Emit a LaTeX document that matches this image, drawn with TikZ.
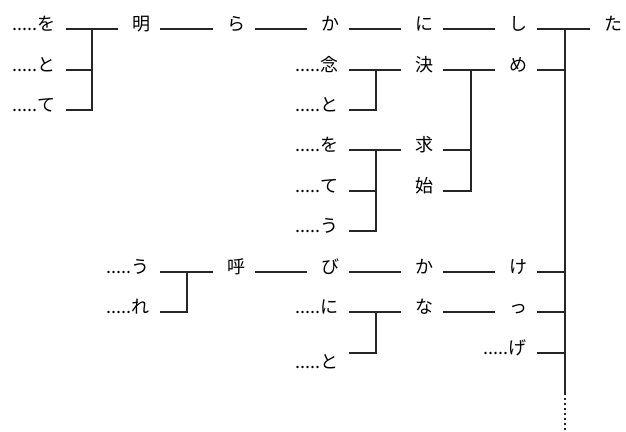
\documentclass[tikz,border=0pt]{standalone}
\usepackage{fontspec}
\setmainfont{Noto Sans CJK JP}
\begin{document}
\begin{tikzpicture}[x=1pt,y=-1pt,
  ch/.style={inner sep=0pt, anchor=base, font=\fontsize{18}{18}\selectfont},
  dch/.style={inner sep=0pt, anchor=base east, font=\fontsize{18}{18}\selectfont},
  ln/.style={line width=1.3pt, draw=black!85}]
\useasboundingbox (0,0) rectangle (626,431);
% row 1
\node[dch] (a1) at (56,30) {.....を};
\node[ch] (a2) at (141,30) {明};
\node[ch] (a3) at (236,30) {ら};
\node[ch] (a4) at (330,30) {か};
\node[ch] (a5) at (424,30) {に};
\node[ch] (a6) at (518,30) {し};
\node[ch] (a7) at (613,30) {た};
% row 2
\node[dch] (b1) at (56,71) {.....と};
\node[dch] (b4) at (339,71) {.....念};
\node[ch] (b5) at (424,71) {決};
\node[ch] (b6) at (518,71) {め};
% row 3
\node[dch] (c1) at (56,111) {.....て};
\node[dch] (c4) at (339,111) {.....と};
% row 4
\node[dch] (d4) at (339,151) {.....を};
\node[ch] (d5) at (424,151) {求};
% row 5
\node[dch] (e4) at (339,192) {.....て};
\node[ch] (e5) at (424,192) {始};
% row 6
\node[dch] (f4) at (339,232) {.....う};
% row 7
\node[dch] (g2) at (150,273) {.....う};
\node[ch] (g3) at (236,273) {呼};
\node[ch] (g4) at (330,273) {び};
\node[ch] (g5) at (424,273) {か};
\node[ch] (g6) at (518,273) {け};
% row 8
\node[dch] (h2) at (150,313) {.....れ};
\node[dch] (h4) at (339,313) {.....に};
\node[ch] (h5) at (424,313) {な};
\node[ch] (h6) at (518,313) {っ};
% row 9
\node[dch] (i4) at (339,368) {.....と};
\node[dch] (i6) at (527,354) {.....げ};
% bracket coordinates
\coordinate (k1) at (92,29);
\coordinate (k2) at (187,272);
\coordinate (k3) at (376,70);
\coordinate (k4) at (376,150);
\coordinate (k5) at (376,312);
\coordinate (k6) at (471,70);
\coordinate (k7) at (565,29);
\coordinate (k7s) at (565,393);
\coordinate (k7e) at (565,431);
\tikzset{from/.style={xshift=10pt,yshift=1pt}, to/.style={xshift=-14pt,yshift=1pt}}
% row 1 lines
\draw[ln] ([from]a1.base east) -- ([to]a2.base west);
\draw[ln] ([from]a2.base east) -- ([to]a3.base west);
\draw[ln] ([from]a3.base east) -- ([to]a4.base west);
\draw[ln] ([from]a4.base east) -- ([to]a5.base west);
\draw[ln] ([from]a5.base east) -- ([to]a6.base west);
\draw[ln] ([from]a6.base east) -- ([to]a7.base west);
\draw[ln] ([from]b1.base east) -| (k1);
\draw[ln] ([from]c1.base east) -| (k1);
% rows 2-6
\draw[ln] ([from]b4.base east) -- ([to]b5.base west);
\draw[ln] ([from]c4.base east) -| (k3);
\draw[ln] ([from]b5.base east) -- ([to]b6.base west);
\draw[ln] ([from]d5.base east) -| (k6);
\draw[ln] ([from]e5.base east) -| (k6);
\draw[ln] ([from]b6.base east) -| (k7);
\draw[ln] ([from]d4.base east) -- ([to]d5.base west);
\draw[ln] ([from]e4.base east) -| (k4);
\draw[ln] ([from]f4.base east) -| (k4);
% rows 7-9
\draw[ln] ([from]g2.base east) -- ([to]g3.base west);
\draw[ln] ([from]h2.base east) -| (k2);
\draw[ln] ([from]g3.base east) -- ([to]g4.base west);
\draw[ln] ([from]g4.base east) -- ([to]g5.base west);
\draw[ln] ([from]g5.base east) -- ([to]g6.base west);
\draw[ln] ([from]g6.base east) -| (k7);
\draw[ln] ([from]h4.base east) -- ([to]h5.base west);
\draw[ln] ([from,yshift=14pt]i4.base east) -| (k5);
\draw[ln] ([from]h5.base east) -- ([to]h6.base west);
\draw[ln] ([from]h6.base east) -| (k7);
\draw[ln] ([from]i6.base east) -| (k7);
% main vertical
\draw[ln] (k7) -- (k7s);
\draw[ln, dash pattern=on 2pt off 3pt] (k7s) -- (k7e);
\end{tikzpicture}
\end{document}
